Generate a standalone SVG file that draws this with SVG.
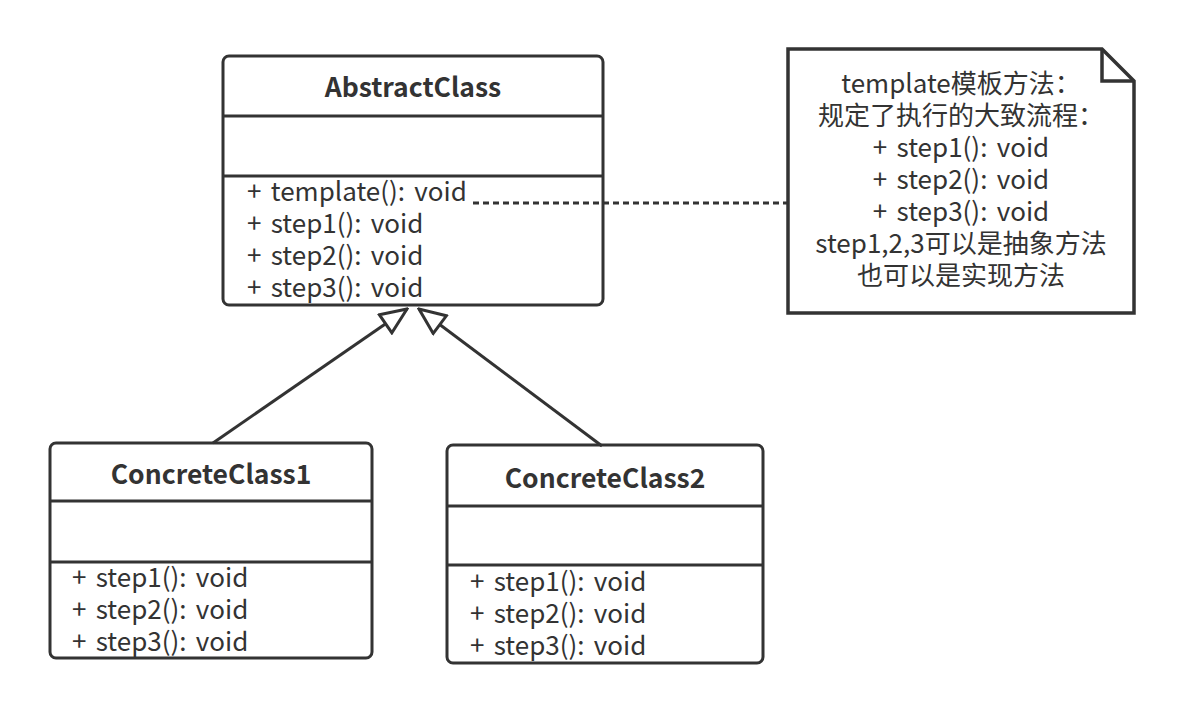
<svg xmlns="http://www.w3.org/2000/svg" width="1184" height="713" viewBox="0 0 1184 713">
<style>
.box{fill:#fff;stroke:#333;stroke-width:3}
.sep{stroke:#333;stroke-width:3}
.title{font-family:"Noto Sans CJK SC","Noto Sans",sans-serif;font-size:26.5px;font-weight:bold;fill:#333;text-anchor:middle}
.m{font-family:"Noto Sans CJK SC","Noto Sans",sans-serif;font-size:26px;word-spacing:3.5px;fill:#333}
.note{font-family:"Noto Sans CJK SC",sans-serif;font-size:26px;word-spacing:3.5px;fill:#333;text-anchor:middle}
.edge{fill:none;stroke:#333;stroke-width:3}
</style>
<defs>
<marker id="tri" markerUnits="userSpaceOnUse" viewBox="0 0 30 26" refX="28" refY="13" markerWidth="30" markerHeight="26" orient="auto">
<path d="M2,2 L28,13 L2,24 Z" fill="#fff" stroke="#333" stroke-width="3" stroke-linejoin="miter"/>
</marker>
</defs>
<rect width="1184" height="713" fill="#fff"/>
<g id="AbstractClass">
<rect class="box" x="223" y="56" width="380" height="249" rx="6"/>
<line class="sep" x1="223" y1="116" x2="603" y2="116"/>
<line class="sep" x1="223" y1="176" x2="603" y2="176"/>
<text class="title" x="413" y="97">AbstractClass</text>
<text class="m" x="247" y="201">+ template(): void</text>
<text class="m" x="247" y="233">+ step1(): void</text>
<text class="m" x="247" y="265">+ step2(): void</text>
<text class="m" x="247" y="297">+ step3(): void</text>
</g>
<g id="note">
<path d="M788,49 L1102,49 L1134,81 L1134,313 L788,313 Z" fill="#fff" stroke="#333" stroke-width="3.5"/>
<path d="M1102,49 L1102,81 L1134,81" fill="none" stroke="#333" stroke-width="3.5"/>
<text class="note" x="961" y="93">template模板方法：</text>
<text class="note" x="961" y="125">规定了执行的大致流程：</text>
<text class="note" x="961" y="157">+ step1(): void</text>
<text class="note" x="961" y="189">+ step2(): void</text>
<text class="note" x="961" y="221">+ step3(): void</text>
<text class="note" x="961" y="253">step1,2,3可以是抽象方法</text>
<text class="note" x="961" y="285">也可以是实现方法</text>
</g>
<g id="ConcreteClass1">
<rect class="box" x="50" y="443" width="322" height="215" rx="6"/>
<line class="sep" x1="50" y1="501" x2="372" y2="501"/>
<line class="sep" x1="50" y1="562" x2="372" y2="562"/>
<text class="title" x="211" y="484">ConcreteClass1</text>
<text class="m" x="72" y="587">+ step1(): void</text>
<text class="m" x="72" y="619">+ step2(): void</text>
<text class="m" x="72" y="651">+ step3(): void</text>
</g>
<g id="ConcreteClass2">
<rect class="box" x="447" y="445" width="316" height="218" rx="6"/>
<line class="sep" x1="447" y1="506" x2="763" y2="506"/>
<line class="sep" x1="447" y1="565" x2="763" y2="565"/>
<text class="title" x="605" y="488">ConcreteClass2</text>
<text class="m" x="470" y="591">+ step1(): void</text>
<text class="m" x="470" y="623">+ step2(): void</text>
<text class="m" x="470" y="655">+ step3(): void</text>
</g>
<g id="connectors">
<line class="edge" x1="473" y1="203" x2="788" y2="203" stroke-dasharray="6 4"/>
<line class="edge" x1="213" y1="443" x2="407" y2="309" marker-end="url(#tri)"/>
<line class="edge" x1="602" y1="446" x2="419" y2="309" marker-end="url(#tri)"/>
</g>
</svg>
